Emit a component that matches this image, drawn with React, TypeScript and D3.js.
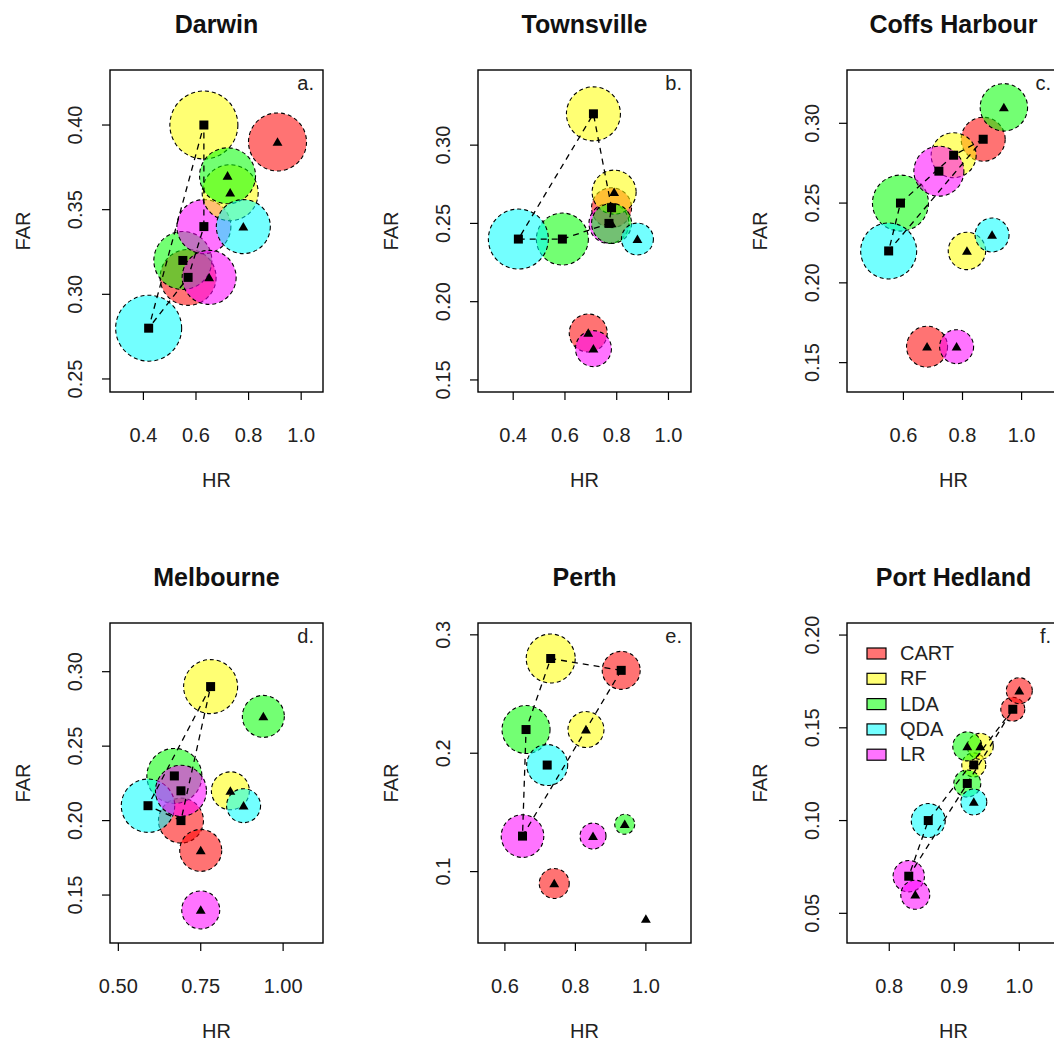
import React from 'react';
import * as d3 from 'd3';

const METHODS = ['CART', 'RF', 'LDA', 'QDA', 'LR'];
const METHOD_COLORS = ['#FF0000', '#FFFF00', '#00FF00', '#00FFFF', '#FF00FF'];
const CITIES = ['Darwin', 'Townsville', 'Coffs Harbour', 'Melbourne', 'Perth', 'Port Hedland'];
const PANEL_TAGS = ['a.', 'b.', 'c.', 'd.', 'e.', 'f.'];

// order of values in each array: CART, RF, LDA, QDA, LR
// Darwin
const DARWIN_SQ_HR = [0.57, 0.63, 0.55, 0.42, 0.63];
const DARWIN_SQ_FAR = [0.31, 0.40, 0.32, 0.28, 0.34];
const DARWIN_SQ_SIZE = [0.28, 0.34, 0.29, 0.33, 0.27];
const DARWIN_TRI_HR = [0.91, 0.73, 0.72, 0.78, 0.65];
const DARWIN_TRI_FAR = [0.39, 0.36, 0.37, 0.34, 0.31];
const DARWIN_TRI_SIZE = [0.29, 0.28, 0.28, 0.27, 0.27];
// Townsville
const TOWNSVILLE_SQ_HR = [0.78, 0.71, 0.59, 0.42, 0.77];
const TOWNSVILLE_SQ_FAR = [0.26, 0.32, 0.24, 0.24, 0.25];
const TOWNSVILLE_SQ_SIZE = [0.20, 0.27, 0.26, 0.30, 0.20];
const TOWNSVILLE_TRI_HR = [0.69, 0.79, 0.78, 0.88, 0.71];
const TOWNSVILLE_TRI_FAR = [0.18, 0.27, 0.25, 0.24, 0.17];
const TOWNSVILLE_TRI_SIZE = [0.19, 0.22, 0.20, 0.16, 0.18];
// Coffs Harbour
const COFFS_SQ_HR = [0.87, 0.77, 0.59, 0.55, 0.72];
const COFFS_SQ_FAR = [0.29, 0.28, 0.25, 0.22, 0.27];
const COFFS_SQ_SIZE = [0.22, 0.225, 0.28, 0.28, 0.25];
const COFFS_TRI_HR = [0.68, 0.815, 0.94, 0.90, 0.78];
const COFFS_TRI_FAR = [0.16, 0.22, 0.31, 0.23, 0.16];
const COFFS_TRI_SIZE = [0.205, 0.187, 0.237, 0.17, 0.17];
// Melbourne
const MELBOURNE_SQ_HR = [0.69, 0.78, 0.67, 0.59, 0.69];
const MELBOURNE_SQ_FAR = [0.20, 0.29, 0.23, 0.21, 0.22];
const MELBOURNE_SQ_SIZE = [0.225, 0.27, 0.275, 0.267, 0.255];
const MELBOURNE_TRI_HR = [0.75, 0.84, 0.94, 0.88, 0.75];
const MELBOURNE_TRI_FAR = [0.18, 0.22, 0.27, 0.21, 0.14];
const MELBOURNE_TRI_SIZE = [0.21, 0.19, 0.21, 0.17, 0.19];
// Perth
const PERTH_SQ_HR = [0.93, 0.73, 0.66, 0.72, 0.65];
const PERTH_SQ_FAR = [0.27, 0.28, 0.22, 0.19, 0.13];
const PERTH_SQ_SIZE = [0.19, 0.245, 0.24, 0.205, 0.213];
const PERTH_TRI_HR = [0.74, 0.83, 0.94, 1.0, 0.85];
const PERTH_TRI_FAR = [0.09, 0.22, 0.14, 0.06, 0.13];
const PERTH_TRI_SIZE = [0.15, 0.18, 0.10, 0.0, 0.13];
// Port Hedland
const HEDLAND_SQ_HR = [0.99, 0.93, 0.92, 0.86, 0.83];
const HEDLAND_SQ_FAR = [0.16, 0.13, 0.12, 0.10, 0.07];
const HEDLAND_SQ_SIZE = [0.12, 0.12, 0.135, 0.17, 0.157];
const HEDLAND_TRI_HR = [1.0, 0.94, 0.92, 0.93, 0.84];
const HEDLAND_TRI_FAR = [0.17, 0.14, 0.14, 0.11, 0.06];
const HEDLAND_TRI_SIZE = [0.13, 0.13, 0.145, 0.13, 0.145];

// axis limits and ticks
const X_LIMS = [[0.273, 1.083], [0.264, 1.087], [0.409, 1.13], [0.4747, 1.121], [0.5237, 1.128], [0.735, 1.0626]];
const Y_LIMS = [[0.2423, 0.4325], [0.1423, 0.348], [0.1316, 0.3334], [0.1178, 0.3327], [0.0397, 0.31], [0.034, 0.2065]];
const X_TICKS = [[0.4, 0.6, 0.8, 1.0], [0.4, 0.6, 0.8, 1.0], [0.6, 0.8, 1.0], [0.5, 0.75, 1.0], [0.6, 0.8, 1.0], [0.8, 0.9, 1.0]];
const X_TICK_LABELS = [['0.4', '0.6', '0.8', '1.0'], ['0.4', '0.6', '0.8', '1.0'], ['0.6', '0.8', '1.0'], ['0.50', '0.75', '1.00'], ['0.6', '0.8', '1.0'], ['0.8', '0.9', '1.0']];
const Y_TICKS = [[0.25, 0.3, 0.35, 0.4], [0.15, 0.2, 0.25, 0.3], [0.15, 0.2, 0.25, 0.3], [0.15, 0.2, 0.25, 0.3], [0.1, 0.2, 0.3], [0.05, 0.1, 0.15, 0.2]];
const Y_TICK_LABELS = [['0.25', '0.30', '0.35', '0.40'], ['0.15', '0.20', '0.25', '0.30'], ['0.15', '0.20', '0.25', '0.30'], ['0.15', '0.20', '0.25', '0.30'], ['0.1', '0.2', '0.3'], ['0.05', '0.10', '0.15', '0.20']];

const SERIES = [
  [DARWIN_SQ_HR, DARWIN_SQ_FAR, DARWIN_SQ_SIZE, DARWIN_TRI_HR, DARWIN_TRI_FAR, DARWIN_TRI_SIZE],
  [TOWNSVILLE_SQ_HR, TOWNSVILLE_SQ_FAR, TOWNSVILLE_SQ_SIZE, TOWNSVILLE_TRI_HR, TOWNSVILLE_TRI_FAR, TOWNSVILLE_TRI_SIZE],
  [COFFS_SQ_HR, COFFS_SQ_FAR, COFFS_SQ_SIZE, COFFS_TRI_HR, COFFS_TRI_FAR, COFFS_TRI_SIZE],
  [MELBOURNE_SQ_HR, MELBOURNE_SQ_FAR, MELBOURNE_SQ_SIZE, MELBOURNE_TRI_HR, MELBOURNE_TRI_FAR, MELBOURNE_TRI_SIZE],
  [PERTH_SQ_HR, PERTH_SQ_FAR, PERTH_SQ_SIZE, PERTH_TRI_HR, PERTH_TRI_FAR, PERTH_TRI_SIZE],
  [HEDLAND_SQ_HR, HEDLAND_SQ_FAR, HEDLAND_SQ_SIZE, HEDLAND_TRI_HR, HEDLAND_TRI_FAR, HEDLAND_TRI_SIZE],
];

const FONT = "'Liberation Sans', Arial, Helvetica, sans-serif";
const COL_LEFT = [110, 478, 847];
const ROW_TOP = [70, 623];
const ROW_H = [322, 320];
const BOX_W = 213;
const FILL_OPACITY = 0.55;

function Panel({ idx }: { idx: number }) {
  const col = idx % 3;
  const row = Math.floor(idx / 3);
  const left = COL_LEFT[col];
  const top = ROW_TOP[row];
  const w = BOX_W;
  const h = ROW_H[row];
  const x = d3.scaleLinear().domain(X_LIMS[idx]).range([left, left + w]);
  const y = d3.scaleLinear().domain(Y_LIMS[idx]).range([top + h, top]);
  const r = d3.scaleLinear().domain([0, 1]).range([0, 100]);
  const [sqHR, sqFAR, sqSize, triHR, triFAR, triSize] = SERIES[idx];

  const squares = METHODS.map((m, i) => ({ m, i, hr: sqHR[i], far: sqFAR[i], size: sqSize[i] }));
  const triangles = METHODS.map((m, i) => ({ m, i, hr: triHR[i], far: triFAR[i], size: triSize[i] }));
  const all = [...squares, ...triangles];

  const hull = d3.polygonHull(squares.map((d) => [x(d.hr), y(d.far)] as [number, number]));
  const hullPath = hull ? 'M' + hull.map((p) => p.join(',')).join('L') + 'Z' : '';
  const clipId = `clip-${idx}`;
  const sq = 9;
  const tri = d3.symbol().type(d3.symbolTriangle).size(42)();

  return (
    <g>
      <defs>
        <clipPath id={clipId}>
          <rect x={left} y={top} width={w} height={h} />
        </clipPath>
      </defs>
      <g clipPath={`url(#${clipId})`}>
        {all.filter((d) => d.size > 0).map((d, k) => (
          <circle
            key={'c' + k}
            cx={x(d.hr)}
            cy={y(d.far)}
            r={r(d.size)}
            fill={METHOD_COLORS[d.i]}
            fillOpacity={FILL_OPACITY}
            stroke="#000"
            strokeWidth={1.1}
            strokeDasharray="4,3"
          />
        ))}
        <path d={hullPath} fill="none" stroke="#000" strokeWidth={1.3} strokeDasharray="6,5" />
        {squares.map((d, k) => (
          <rect key={'s' + k} x={x(d.hr) - sq / 2} y={y(d.far) - sq / 2} width={sq} height={sq} fill="#000" />
        ))}
        {triangles.map((d, k) => (
          <path key={'t' + k} d={tri as string} transform={`translate(${x(d.hr)},${y(d.far) + 1})`} fill="#000" />
        ))}
      </g>
      <rect x={left} y={top} width={w} height={h} fill="none" stroke="#000" strokeWidth={1.4} />
      {X_TICKS[idx].map((t, k) => (
        <g key={'xt' + k}>
          <line x1={x(t)} x2={x(t)} y1={top + h} y2={top + h + 8} stroke="#000" strokeWidth={1.2} />
          <text x={x(t)} y={top + h + 50} fontSize={20} fontFamily={FONT} textAnchor="middle" fill="#222">
            {X_TICK_LABELS[idx][k]}
          </text>
        </g>
      ))}
      {Y_TICKS[idx].map((t, k) => (
        <g key={'yt' + k}>
          <line x1={left - 8} x2={left} y1={y(t)} y2={y(t)} stroke="#000" strokeWidth={1.2} />
          <text
            transform={`translate(${left - 28},${y(t)}) rotate(-90)`}
            fontSize={20}
            fontFamily={FONT}
            textAnchor="middle"
            fill="#222"
          >
            {Y_TICK_LABELS[idx][k]}
          </text>
        </g>
      ))}
      <text x={left + w / 2} y={top + h + 95} fontSize={20} fontFamily={FONT} textAnchor="middle" fill="#222">
        HR
      </text>
      <text
        transform={`translate(${left - 80},${top + h / 2}) rotate(-90)`}
        fontSize={20}
        fontFamily={FONT}
        textAnchor="middle"
        fill="#222"
      >
        FAR
      </text>
      <text x={left + w / 2} y={top - 37} fontSize={25} fontWeight="bold" fontFamily={FONT} textAnchor="middle" fill="#111">
        {CITIES[idx]}
      </text>
      <text x={left + w - 9} y={top + 20} fontSize={20} fontFamily={FONT} textAnchor="end" fill="#222">
        {PANEL_TAGS[idx]}
      </text>
      {idx === 5 && (
        <g>
          {METHODS.map((m, i) => (
            <g key={'lg' + i}>
              <rect
                x={left + 20}
                y={top + 25 + i * 25.3}
                width={19}
                height={11}
                fill={METHOD_COLORS[i]}
                fillOpacity={FILL_OPACITY}
                stroke="#000"
                strokeWidth={1.2}
              />
              <text x={left + 53} y={top + 37 + i * 25.3} fontSize={20} fontFamily={FONT} fill="#222">
                {m}
              </text>
            </g>
          ))}
        </g>
      )}
    </g>
  );
}

export default function App() {
  return (
    <svg
      width={1054}
      height={1045}
      style={{ position: 'absolute', left: 0, top: 0, background: '#fff' }}
    >
      <rect x={0} y={0} width={1054} height={1045} fill="#fff" />
      {CITIES.map((c, i) => (
        <Panel key={c} idx={i} />
      ))}
    </svg>
  );
}
